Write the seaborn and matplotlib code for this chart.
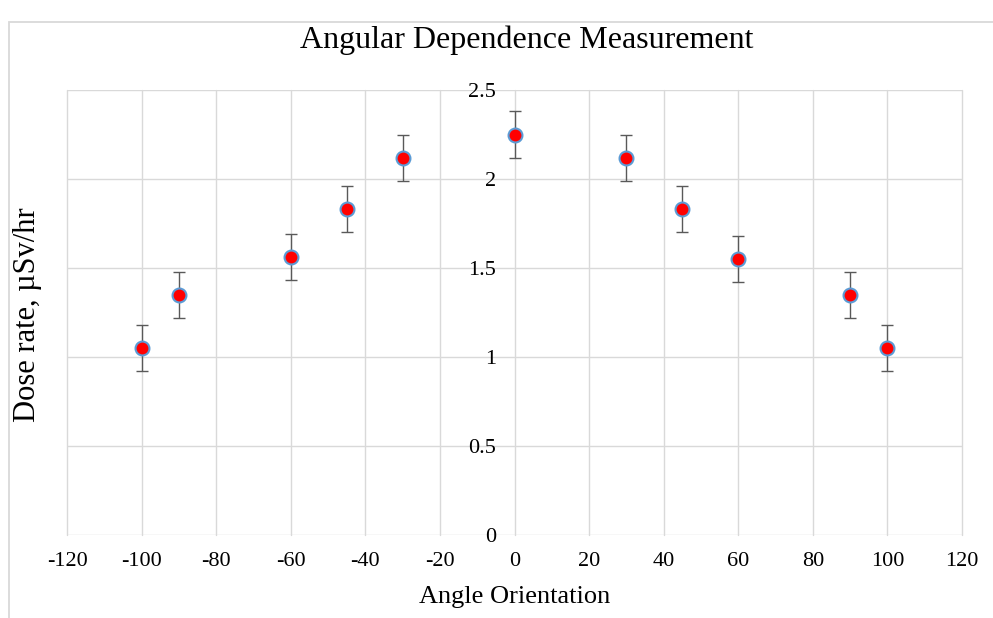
import pandas as pd
import seaborn as sns
import matplotlib.pyplot as plt
from matplotlib.patches import Rectangle

# values
angles = [-100, -90, -60, -45, -30, 0, 30, 45, 60, 90, 100]
dose = [1.05, 1.35, 1.56, 1.83, 2.12, 2.25, 2.12, 1.83, 1.55, 1.35, 1.05]
dose_err = [0.13, 0.13, 0.13, 0.13, 0.13, 0.13, 0.13, 0.13, 0.13, 0.13, 0.13]

x_ticks = [-120, -100, -80, -60, -40, -20, 0, 20, 40, 60, 80, 100, 120]
y_ticks = [0, 0.5, 1, 1.5, 2, 2.5]
y_tick_labels = ['0', '0.5', '1', '1.5', '2', '2.5']

df = pd.DataFrame({'angle': angles, 'dose': dose, 'err': dose_err})

sns.set_style('white')
plt.rcParams['font.family'] = ['Liberation Serif', 'DejaVu Serif']
plt.rcParams['text.color'] = 'black'
plt.rcParams['xtick.color'] = 'black'
plt.rcParams['ytick.color'] = 'black'
plt.rcParams['axes.labelcolor'] = 'black'

fig = plt.figure(figsize=(9.93, 6.18), dpi=100)
ax = fig.add_axes([67/993, 1-535/618, 895/993, 445/618])

ax.errorbar(df['angle'], df['dose'], yerr=df['err'], fmt='none',
            ecolor='#595959', elinewidth=1.0, capsize=4.3, capthick=1.0, zorder=3)
sns.scatterplot(data=df, x='angle', y='dose', color='#ff0000', edgecolor='#5b9bd5',
                linewidth=1.5, s=100, zorder=4, ax=ax, legend=False)

ax.set_xlim(-120, 120)
ax.set_ylim(0, 2.5)
ax.set_xticks(x_ticks)
ax.set_xticklabels([str(t) for t in x_ticks])
ax.set_yticks(y_ticks)
ax.set_yticklabels(y_tick_labels)

ax.grid(True, color='#d9d9d9', lw=1.0)
ax.set_axisbelow(True)
for gl in ax.get_xgridlines() + ax.get_ygridlines():
    gl.set_clip_on(False)

for s in ax.spines.values():
    s.set_visible(False)
ax.spines['left'].set_position(('data', 0))

ax.tick_params(length=0, labelsize=16)
ax.tick_params(axis='y', pad=13.5)
ax.tick_params(axis='x', pad=12)

ax.set_xlabel('Angle Orientation', fontsize=19, va='center')
ax.xaxis.set_label_coords((515-67)/895, (535-597)/445)
ax.set_ylabel('Dose rate, µSv/hr', fontsize=22, va='center')
ax.yaxis.set_label_coords((28-67)/895, (535-315)/445)

ax.set_title('Angular Dependence Measurement', fontsize=23, y=(535-40)/445, va='center', pad=0)
ax.title.set_x((527-67)/895)

# chart frame, cropped like the original
fig.add_artist(Rectangle((9/993, -0.5), 2, 0.5 + 1 - 22/618, transform=fig.transFigure,
                         fill=False, ec='#d9d9d9', lw=1.3, zorder=-1))

fig.savefig('out.png', dpi=100)
